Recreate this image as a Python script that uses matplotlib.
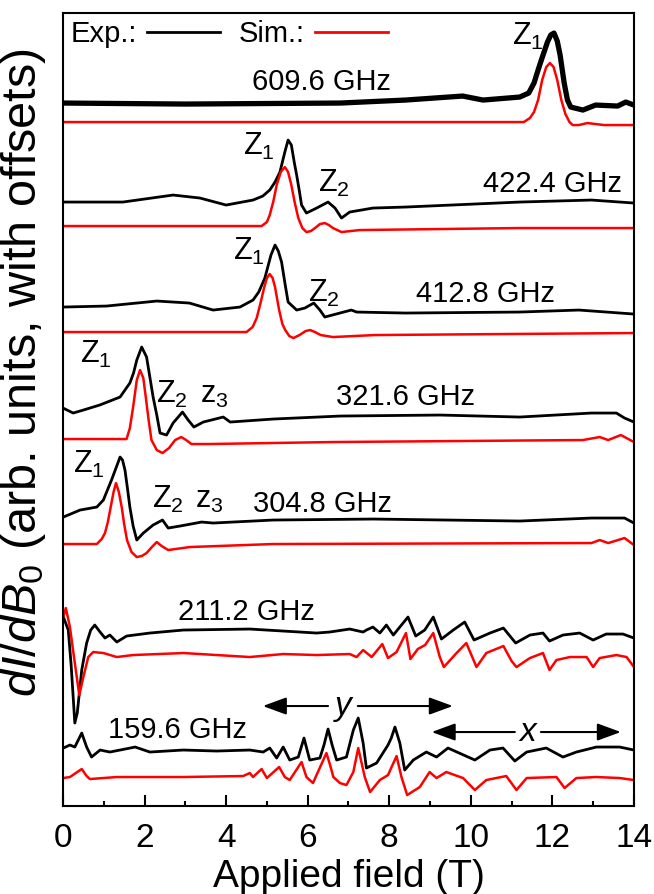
import matplotlib
matplotlib.use('Agg')
import matplotlib.pyplot as plt
from matplotlib.lines import Line2D

plt.rcParams['font.family'] = ['Liberation Sans', 'DejaVu Sans']
plt.rcParams['mathtext.fontset'] = 'custom'
plt.rcParams['mathtext.rm'] = 'Liberation Sans'
plt.rcParams['mathtext.it'] = 'Liberation Sans:italic'
plt.rcParams['mathtext.bf'] = 'Liberation Sans:bold'

# ---- data (field in T, signal in arb. units) ----
freqs = ['609.6 GHz', '422.4 GHz', '412.8 GHz', '321.6 GHz', '304.8 GHz', '211.2 GHz', '159.6 GHz']
exp_offsets = [703, 604, 499, 391, 286, 176, 56]
sim_offsets = [684, 580, 474, 366, 262, 151, 29]

b609_exp = [0, 3.0, 6.8, 8.4, 9.8, 10.3, 11.2, 11.42, 11.55, 11.65, 11.73, 11.88, 11.96, 12.04, 12.12, 12.19, 12.29,
            12.37, 12.45, 12.75, 13.06, 13.6, 13.8, 14]
s609_exp = [0, -1, 0, 3, 7, 3, 6, 10, 20, 33, 43, 61, 68, 70, 62, 48, 20, 3, -4, -7, -2, -3, 1, -2]
b609_sim = [0, 11.3, 11.45, 11.55, 11.65, 11.75, 11.85, 11.94, 12.03, 12.12, 12.22, 12.32, 12.42, 12.5, 12.65,
            12.86, 13.06, 13.27, 14]
s609_sim = [0, 0, 4, 10, 22, 42, 55, 59, 55, 42, 22, 8, 0, -3, -3, -1, -2, -3, -3]

b422_exp = [0, 1.47, 2.7, 3.36, 4.0, 4.66, 4.9, 5.07, 5.2, 5.32, 5.44, 5.52, 5.6, 5.67, 5.73, 5.8, 5.85, 5.97,
            6.22, 6.5, 6.67, 6.83, 7.03, 7.6, 8.4, 11.2, 12.96, 14]
s422_exp = [0, 0, 7, 4, -3, 2, 6, 12, 20, 30, 50, 62, 57, 40, 27, 10, -3, -11,
            -6, 0, -6, -16, -10, -6, -5, 0, 2, -1]
b422_sim = [0, 4.87, 5.0, 5.07, 5.16, 5.24, 5.34, 5.44, 5.52, 5.6, 5.68, 5.77, 5.87, 5.97, 6.08, 6.18, 6.3,
            6.42, 6.52, 6.62, 6.83, 7.28, 11.2, 14]
s422_sim = [0, 0, 4, 11, 25, 41, 54, 59, 54, 41, 24, 8, -2, -6, -5, -2, 2, 3, 1, -2, -6, -4, -2, -2]

b412_exp = [0, 1.07, 2.3, 3.1, 3.68, 4.34, 4.66, 4.8, 4.95, 5.1, 5.2, 5.28, 5.36, 5.45, 5.52, 5.73, 5.93, 6.15,
            6.3, 6.42, 6.79, 7.07, 7.2, 8.4, 11.2, 12.65, 14]
s412_exp = [0, 1, 6, 4, -3, 0, 7, 15, 29, 52, 62, 56, 45, 22, 5, -3, -1, 4, -3, -10, -6, -3, -5, -6, -5, -3, -7]
b412_sim = [0, 4.5, 4.65, 4.75, 4.85, 4.93, 5.0, 5.07, 5.14, 5.2, 5.3, 5.38, 5.45, 5.55, 5.65, 5.8, 5.95, 6.06,
            6.18, 6.32, 6.62, 7.65, 14]
s412_sim = [0, 0, 5, 14, 30, 44, 54, 58, 54, 45, 22, 8, 2, -4, -6, -3, 1, 2, 0, -3, -5, -3, -1]

b321_exp = [0, 0.25, 0.5, 0.9, 1.4, 1.64, 1.73, 1.81, 1.93, 2.05, 2.13, 2.21, 2.3, 2.38, 2.54, 2.7, 2.93, 3.07,
            3.21, 3.44, 3.93, 4.1, 5.15, 6.8, 9.24, 11.2, 12.96, 13.57, 13.77, 14]
s321_exp = [7, 2, 5, 10, 18, 32, 42, 55, 68, 58, 38, 18, 0, -18, -20, -8, 3, -5,
            -12, -7, -2, -7, -4, -1, 0, -2, 2, 2, -3, -7]
b321_sim = [0, 1.56, 1.64, 1.72, 1.81, 1.89, 1.97, 2.03, 2.1, 2.17, 2.3, 2.44, 2.6, 2.75, 2.9, 3.02, 3.15, 3.56,
            6.62, 12.75, 13.16, 13.37, 13.68, 14]
s321_sim = [1, 1, 12, 33, 60, 70, 62, 43, 20, 0, -10, -13, -8, 0, 3, 0, -4, -4, -2, 0, 3, 0, 5, -2]

b304_exp = [0.01, 0.42, 0.83, 0.99, 1.19, 1.30, 1.40, 1.46, 1.52, 1.58, 1.64, 1.72, 1.81, 1.97, 2.21, 2.44, 2.58,
            2.87, 3.40, 3.68, 5.15, 7.61, 11.2, 12.96, 13.77, 14]
s304_exp = [3, 10, 13, 20, 40, 52, 63, 60, 50, 32, 13, -6, -20, -13, -5, 0, -8,
            -6, -2, -3, 0, 1, -1, 2, 2, -3]
b304_sim = [0, 0.83, 0.95, 1.03, 1.1, 1.17, 1.24, 1.30, 1.37, 1.44, 1.5, 1.57, 1.68, 1.81, 1.93, 2.05, 2.18, 2.3,
            2.42, 2.58, 3.11, 5.15, 12.96, 13.16, 13.37, 13.77, 14]
s304_sim = [0, 0, 5, 11, 22, 37, 52, 61, 52, 37, 20, 4, -8, -13, -12, -9, -3, 2, -2, -6, -3, 0, 1, 4, 1, 6, -1]

b211_exp = [0.01, 0.13, 0.2, 0.25, 0.29, 0.35, 0.46, 0.58, 0.68, 0.78, 0.91, 1.03, 1.15, 1.32, 1.56, 2.13, 2.95, 4.58,
            6.22, 6.54, 7.03, 7.36, 7.44, 7.6, 7.77, 7.93, 8.1, 8.46, 8.65, 8.87, 9.08, 9.28, 9.57, 9.85,
            10.08, 10.47, 10.8, 11.1, 11.45, 11.77, 11.93, 12.26, 12.67, 13.0, 13.32, 13.73, 14]
s211_exp = [13, 0, -35, -67, -93, -83, -40, -13, 0, 5, -2, -8, -5, -12, -6, -3, 0, 1,
            -3, -2, 1, -2, 0, 3, -3, 5, -5, 13, -6, 0, 13, -9, 0, 8,
            -10, -3, 2, -13, -5, -3, -11, -5, -3, -10, -4, -4, -8]
b211_sim = [0, 0.07, 0.17, 0.29, 0.40, 0.5, 0.62, 0.74, 0.99, 1.32, 1.72, 2.95, 3.77, 4.58, 5.4, 6.22,
            7.03, 7.2, 7.36, 7.57, 7.83, 7.97, 8.18, 8.41, 8.52, 8.7, 8.88, 9.08, 9.24, 9.34, 9.65, 9.89,
            10.14, 10.38, 10.8, 11.0, 11.12, 11.45, 11.77, 11.93, 12.1, 12.43, 12.84, 13.0, 13.16, 13.57, 13.82, 14]
s211_sim = [37, 47, 28, -8, -40, -22, -2, 3, 2, -2, 0, 2, 0, -2, 1, 0,
            1, -2, 5, -2, 11, -3, 3, 22, -4, 6, 10, 22, -2, -12, 2, 12,
            -12, 2, 9, -6, -12, -3, 2, -15, -5, -2, -2, -12, -3, 0, -2, -12]

b159_exp = [0.01, 0.17, 0.29, 0.46, 0.58, 0.7, 0.91, 1.15, 1.4, 1.77, 2.13, 2.95, 3.77, 4.58, 4.91, 5.07,
            5.24, 5.4, 5.56, 5.77, 5.91, 6.05, 6.3, 6.4, 6.5, 6.6, 6.71, 6.95, 7.12, 7.24, 7.36, 7.44,
            7.69, 7.97, 8.05, 8.14, 8.26, 8.38, 8.59, 8.91, 9.16, 9.44, 9.77, 10.1, 10.47, 10.79, 11.08,
            11.37, 11.85, 12.26, 12.59, 13.08, 13.65, 14]
s159_exp = [2, 5, 3, 17, 3, -7, 0, -2, 0, 3, -2, 0, -1, 0, -2, 2,
            -8, 3, -10, -7, 12, -10, -8, 5, 21, 5, -10, -7, 20, 32, 7, -18,
            -13, 5, 12, 23, 7, -20, -10, -2, -7, 2, -4, -10, 0, 2, -11,
            -2, 2, -7, -2, 3, 3, 0]
b159_sim = [0.01, 0.17, 0.35, 0.46, 0.58, 0.66, 1.32, 2.95, 4.42, 4.58, 4.66, 4.87, 5.0, 5.3, 5.44, 5.56,
            5.85, 5.97, 6.13, 6.46, 6.55, 6.63, 6.79, 6.95, 7.12, 7.24, 7.4, 7.53, 7.77, 7.97, 8.18, 8.3,
            8.44, 8.75, 8.99, 9.16, 9.4, 9.81, 10.1, 10.38, 10.87, 11.12, 11.37, 12.1, 12.3, 12.59, 13.08, 13.65, 14]
s159_sim = [-1, 0, 5, 8, 1, -2, 0, 0, 1, 4, 0, 8, -1, 10, 0, -3,
            15, 0, -6, 24, 12, 0, -6, -8, 5, 29, 0, -15, -3, 2, 21, 0,
            -18, -10, 5, -1, 5, -1, -13, -3, 1, -13, -1, 0, -11, -1, 0, -1, -3]

exp_fields = [b609_exp, b422_exp, b412_exp, b321_exp, b304_exp, b211_exp, b159_exp]
exp_sigs = [s609_exp, s422_exp, s412_exp, s321_exp, s304_exp, s211_exp, s159_exp]
sim_fields = [b609_sim, b422_sim, b412_sim, b321_sim, b304_sim, b211_sim, b159_sim]
sim_sigs = [s609_sim, s422_sim, s412_sim, s321_sim, s304_sim, s211_sim, s159_sim]

fig = plt.figure(figsize=(6.54, 8.94), dpi=100)
ax = fig.add_axes([0.0963, 0.0984, 0.873, 0.887])

for i in range(len(freqs)):
    ye = [v + exp_offsets[i] for v in exp_sigs[i]]
    ys = [v + sim_offsets[i] for v in sim_sigs[i]]
    ax.plot(exp_fields[i], ye, color='black', lw=3.8 if i == 0 else 2.0, solid_joinstyle='round')
    ax.plot(sim_fields[i], ys, color='red', lw=1.8, solid_joinstyle='round')

# frequency labels
gh_pos = [(6.35, 716), (12.0, 614), (10.37, 504), (8.41, 401), (6.37, 294), (4.51, 186), (2.82, 68)]
for f, (x, y) in zip(freqs, gh_pos):
    ax.text(x, y, f, fontsize=21, ha='center', va='baseline')

# peak labels
z_labels = [(r'$\mathregular{Z_1}$', 11.0, 761), (r'$\mathregular{Z_1}$', 4.41, 651), (r'$\mathregular{Z_2}$', 6.25, 614),
            (r'$\mathregular{Z_1}$', 4.17, 546), (r'$\mathregular{Z_2}$', 6.0, 504),
            (r'$\mathregular{Z_1}$', 0.42, 443), (r'$\mathregular{Z_2}$', 2.28, 403), (r'$\mathregular{z_3}$', 3.36, 403),
            (r'$\mathregular{Z_1}$', 0.25, 333), (r'$\mathregular{Z_2}$', 2.18, 298), (r'$\mathregular{z_3}$', 3.24, 298)]
for s, x, y in z_labels:
    ax.text(x, y, s, fontsize=22, ha='left', va='baseline')

# x / y arrows
arr = dict(arrowstyle='-|>,head_length=0.6,head_width=0.22', color='black', lw=1.5,
           mutation_scale=24, shrinkA=0, shrinkB=0)
ax.annotate('', xy=(4.9, 100), xytext=(6.5, 100), arrowprops=arr)
ax.annotate('', xy=(9.56, 100), xytext=(7.23, 100), arrowprops=arr)
ax.text(6.88, 100, 'y', fontsize=24, style='italic', ha='center', va='center')
ax.annotate('', xy=(9.04, 74), xytext=(11.08, 74), arrowprops=arr)
ax.annotate('', xy=(13.68, 74), xytext=(11.72, 74), arrowprops=arr)
ax.text(11.4, 74, 'x', fontsize=24, style='italic', ha='center', va='center')

handles = [Line2D([], [], color='black', lw=2.0), Line2D([], [], color='red', lw=2.0)]
ax.legend(handles, ['Exp.:', 'Sim.:'], loc='upper left', ncol=2, frameon=False, markerfirst=False,
          handlelength=2.5, handletextpad=0.35, columnspacing=0.65, fontsize=21,
          bbox_to_anchor=(0.0, 1.0), borderaxespad=0.0, borderpad=0.25)

ax.set_xlim(0, 14)
ax.set_ylim(0, 793)
ax.set_yticks([])
ax.set_xticks(range(0, 15, 2))
ax.set_xticks(range(1, 14, 2), minor=True)
ax.tick_params(axis='x', which='major', direction='in', length=8, width=1.5, labelsize=24, pad=12)
ax.tick_params(axis='x', which='minor', direction='in', length=3.5, width=1.5)
for sp in ax.spines.values():
    sp.set_linewidth(1.5)

ax.set_xlabel('Applied field (T)', fontsize=28, labelpad=4)
ax.set_ylabel(r'$dI/dB_0$ (arb. units, with offsets)', fontsize=35, va='center', rotation_mode='default')
ax.yaxis.set_label_coords(0.036, 0.583, transform=fig.transFigure)

fig.savefig('out.png', dpi=100)
